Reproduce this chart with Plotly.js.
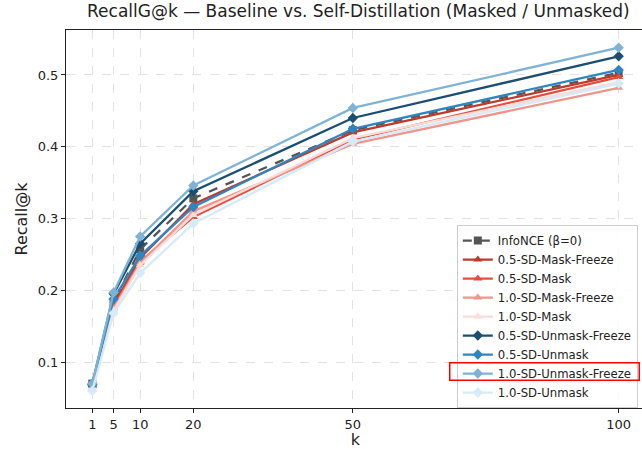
<!DOCTYPE html>
<html>
<head>
<meta charset="utf-8">
<script src="https://cdn.plot.ly/plotly-3.0.1.min.js"></script>
<style>html,body{margin:0;padding:0;overflow:hidden;background:#fff;}#chart{width:648px;height:449px;}</style>
</head>
<body>
<div id="chart"></div>
<script>
const kValues = [1, 5, 10, 20, 50, 100];
const seriesNames = ["InfoNCE (β=0)", "0.5-SD-Mask-Freeze", "0.5-SD-Mask", "1.0-SD-Mask-Freeze", "1.0-SD-Mask",
  "0.5-SD-Unmask-Freeze", "0.5-SD-Unmask", "1.0-SD-Unmask-Freeze", "1.0-SD-Unmask"];
const infoNCE            = [0.070, 0.184, 0.257, 0.328, 0.423, 0.503];
const sd05MaskFreeze     = [0.068, 0.180, 0.245, 0.320, 0.420, 0.500];
const sd05Mask           = [0.067, 0.177, 0.240, 0.302, 0.410, 0.497];
const sd10MaskFreeze     = [0.066, 0.175, 0.238, 0.310, 0.404, 0.482];
const sd10Mask           = [0.065, 0.172, 0.235, 0.305, 0.412, 0.490];
const sd05UnmaskFreeze   = [0.069, 0.195, 0.265, 0.338, 0.440, 0.526];
const sd05Unmask         = [0.068, 0.188, 0.248, 0.316, 0.425, 0.507];
const sd10UnmaskFreeze   = [0.070, 0.197, 0.275, 0.346, 0.454, 0.538];
const sd10Unmask         = [0.060, 0.168, 0.224, 0.293, 0.407, 0.488];
const seriesValues = [infoNCE, sd05MaskFreeze, sd05Mask, sd10MaskFreeze, sd10Mask,
  sd05UnmaskFreeze, sd05Unmask, sd10UnmaskFreeze, sd10Unmask];
const colors = ["#555555", "#c0392b", "#e74c3c", "#f1948a", "#fadbd8",
  "#1b4f72", "#2e86c1", "#7fb3d5", "#d6eaf8"];
const symbols = ["square", "triangle-up", "triangle-up", "triangle-up", "triangle-up",
  "diamond", "diamond", "diamond", "diamond"];
const xTicks = [1, 5, 10, 20, 50, 100];

const traces = seriesNames.map((n, i) => ({
  x: kValues, y: seriesValues[i], name: n, type: "scatter", mode: "lines+markers",
  line: {color: colors[i], width: 2.3, dash: i === 0 ? "dash" : "solid"},
  marker: {color: colors[i], symbol: symbols[i], size: 8}
}));

const gridCol = "#e3e3e3";
const layout = {
  width: 648, height: 449,
  margin: {l: 66, r: 3, t: 30, b: 41},
  paper_bgcolor: "#fff", plot_bgcolor: "#fff",
  font: {family: "DejaVu Sans", color: "#222", size: 13},
  title: {text: "RecallG@k — Baseline vs. Self-Distillation (Masked / Unmasked)",
    font: {size: 17, color: "#222"}, x: 0.553, xanchor: "center", y: 0.988, yanchor: "top"},
  xaxis: {range: [-3.95, 104.95], tickvals: xTicks, ticktext: xTicks.map(String),
    showgrid: true, gridcolor: gridCol, griddash: "dash", zeroline: false,
    showline: true, linecolor: "#222", linewidth: 1, mirror: true,
    ticks: "outside", ticklen: 4, tickcolor: "#222", tickfont: {size: 13},
    title: {text: "k", font: {size: 16}, standoff: 4}},
  yaxis: {range: [0.036, 0.5626], tickvals: [0.1, 0.2, 0.3, 0.4, 0.5],
    showgrid: true, gridcolor: gridCol, griddash: "dash", zeroline: false,
    showline: true, linecolor: "#222", linewidth: 1, mirror: true,
    ticks: "outside", ticklen: 4, tickcolor: "#222", tickfont: {size: 13},
    title: {text: "Recall@k", font: {size: 16}, standoff: 6}},
  legend: {x: 0.675, y: 0.484, xanchor: "left", yanchor: "top",
    bgcolor: "rgba(255,255,255,0.85)", bordercolor: "#cccccc", borderwidth: 1,
    font: {size: 11.7, color: "#222"}, tracegroupgap: 0, itemwidth: 30},
  annotations: [{xref: "paper", yref: "paper", x: 0.8264, y: 0.0966, xanchor: "center", yanchor: "middle",
    text: " ", showarrow: false, width: 188, height: 16, borderpad: 0,
    bordercolor: "#ff0000", borderwidth: 1.5, bgcolor: "rgba(0,0,0,0)"}],
  showlegend: true
};
Plotly.newPlot("chart", traces, layout, {displayModeBar: false, staticPlot: true});
</script>
</body>
</html>
